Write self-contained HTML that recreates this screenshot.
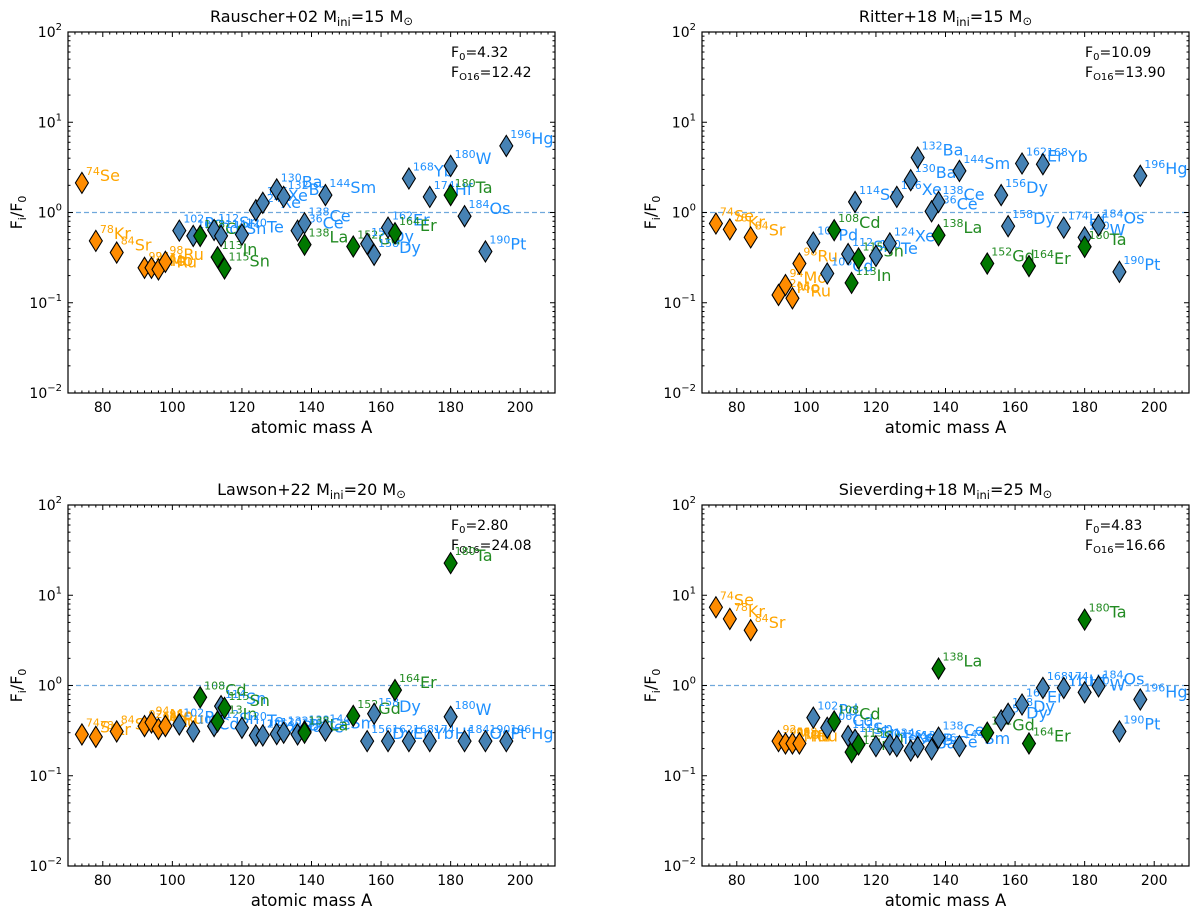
<!DOCTYPE html>
<html><head><meta charset="utf-8"><style>
body{margin:0;background:#fff;}
svg{display:block;font-family:"DejaVu Sans","Liberation Sans",sans-serif;}
</style></head><body>
<svg id="chart" width="1200" height="907" viewBox="0 0 1200 907"></svg>
<script>
const isotopes = ["74Se","78Kr","84Sr","92Mo","94Mo","96Ru","98Ru","102Pd","106Cd","108Cd","112Sn","113In","114Sn","115Sn","120Te","124Xe","126Xe","130Ba","132Ba","136Ce","138Ce","138La","144Sm","152Gd","156Dy","158Dy","162Er","164Er","168Yb","174Hf","180W","180Ta","184Os","190Pt","196Hg"];
const groups = ["o","o","o","o","o","o","o","b","b","g","b","g","b","g","b","b","b","b","b","b","b","g","b","g","b","b","b","g","b","b","b","g","b","b","b"];
const rauscherValues = [2.13,0.485,0.36,0.244,0.244,0.234,0.284,0.63,0.55,0.55,0.64,0.32,0.55,0.24,0.57,1.06,1.28,1.8,1.49,0.63,0.76,0.44,1.56,0.42,0.45,0.34,0.68,0.59,2.38,1.49,3.28,1.56,0.91,0.37,5.47];
const ritterValues = [0.755,0.65,0.53,0.122,0.157,0.112,0.272,0.465,0.211,0.637,0.346,0.166,1.31,0.31,0.33,0.454,1.49,2.28,4.06,1.03,1.31,0.56,2.89,0.272,1.56,0.706,3.49,0.255,3.43,0.68,0.53,0.417,0.72,0.22,2.55];
const lawsonValues = [0.287,0.27,0.31,0.355,0.39,0.33,0.355,0.37,0.31,0.74,0.355,0.40,0.59,0.565,0.34,0.28,0.28,0.29,0.30,0.287,0.31,0.30,0.317,0.46,0.242,0.486,0.242,0.89,0.242,0.242,0.45,22.7,0.242,0.242,0.242];
const sieverdingValues = [7.36,5.47,4.1,0.242,0.228,0.228,0.228,0.44,0.34,0.40,0.275,0.183,0.25,0.222,0.213,0.222,0.213,0.19,0.208,0.196,0.264,1.54,0.213,0.30,0.41,0.486,0.616,0.228,0.94,0.94,0.84,5.37,0.98,0.31,0.70];
const panelTitles = [["Rauscher+02","15"],["Ritter+18","15"],["Lawson+22","20"],["Sieverding+18","25"]];
const f0Labels = ["4.32","10.09","2.80","4.83"];
const fo16Labels = ["12.42","13.90","24.08","16.66"];
const xTicks = [80,100,120,140,160,180,200];
const yTickExps = [-2,-1,0,1,2];

const NS="http://www.w3.org/2000/svg";
const svg=document.getElementById('chart');
function mk(tag,attrs,parent){const e=document.createElementNS(NS,tag);for(const k in attrs)e.setAttribute(k,attrs[k]);(parent||svg).appendChild(e);return e;}
const markerFill={o:"#ff8c00",b:"#4682b4",g:"#007800"};
const labelFill={o:"#ffa500",b:"#1e90ff",g:"#228b22"};
const boxes=[[68,555,32,393],[702,1189,32,393],[68,555,505,866],[702,1189,505,866]];
const allValues=[rauscherValues,ritterValues,lawsonValues,sieverdingValues];

boxes.forEach((b,pi)=>{
  const [L,R,T,B]=b;
  const g=mk('g',{});
  
  
  const xs=a=>L+(a-70)/(140)*(R-L);
  const ys=v=>B-(Math.log10(v)+2)/4*(B-T);
  const t=mk('text',{x:(L+R)/2,y:T-10,'text-anchor':'middle','font-size':16,fill:'#000'},g);
  
  
  t.innerHTML=panelTitles[pi][0]+' M<tspan font-size="11.5" dy="4">ini</tspan><tspan dy="-4">='+panelTitles[pi][1]+' M</tspan><tspan font-size="11.5" dy="3">⊙</tspan>';
  const dl=mk('line',{x1:L,x2:R,y1:ys(1),y2:ys(1),stroke:'#6fa8dc','stroke-width':1.2,'stroke-dasharray':'5,3'},g);
  
  
  for(let a=70;a<=210;a+=2){
    const major=xTicks.includes(a); const len=major?5:2.5;
    mk('line',{x1:xs(a),x2:xs(a),y1:B,y2:B-len,stroke:'#000','stroke-width':1},g);
    mk('line',{x1:xs(a),x2:xs(a),y1:T,y2:T+len,stroke:'#000','stroke-width':1},g);
  }
  xTicks.forEach(a=>{
    const tl=mk('text',{x:xs(a),y:B+19,'text-anchor':'middle','font-size':14},g);
    
    
    tl.textContent=a;
  });
  for(let e=-2;e<2;e++){for(let m=2;m<10;m++){const y=ys(m*Math.pow(10,e));
    mk('line',{x1:L,x2:L+2.5,y1:y,y2:y,stroke:'#000'},g);mk('line',{x1:R,x2:R-2.5,y1:y,y2:y,stroke:'#000'},g);}}
  yTickExps.forEach(e=>{
    const y=ys(Math.pow(10,e));
    mk('line',{x1:L,x2:L+5,y1:y,y2:y,stroke:'#000'},g);mk('line',{x1:R,x2:R-5,y1:y,y2:y,stroke:'#000'},g);
    const tl=mk('text',{x:L-6,y:y+5,'text-anchor':'end','font-size':14},g);
    
    
    tl.innerHTML='10<tspan font-size="10" dy="-7">'+(e<0?'−'+(-e):e)+'</tspan>';
  });
  const fr=mk('rect',{x:L,y:T,width:R-L,height:B-T,fill:'none',stroke:'#000','stroke-width':1.2},g);
  
  
  const xl=mk('text',{x:(L+R)/2,y:B+40,'text-anchor':'middle','font-size':16.5},g);
  
  
  xl.textContent='atomic mass A';
  const yl=mk('text',{x:0,y:0,'text-anchor':'middle','font-size':16,transform:'translate('+(L-46)+','+((T+B)/2)+') rotate(-90)'},g);
  
  
  yl.innerHTML='F<tspan font-size="11" dy="4">i</tspan><tspan dy="-4">/F</tspan><tspan font-size="11" dy="4">0</tspan>';
  const a1=mk('text',{x:L+383,y:T+25,'font-size':14},g);
  
  
  a1.innerHTML='F<tspan font-size="10" dy="3">0</tspan><tspan dy="-3">='+f0Labels[pi]+'</tspan>';
  const a2=mk('text',{x:L+383,y:T+45,'font-size':14},g);
  
  
  a2.innerHTML='F<tspan font-size="10" dy="3">O16</tspan><tspan dy="-3">='+fo16Labels[pi]+'</tspan>';
  const vals=allValues[pi];
  isotopes.forEach((iso,i)=>{
    const mass=parseInt(iso); const el=iso.replace(/^\d+/,'');
    const cx=xs(mass), cy=ys(vals[i]);
    const p=mk('path',{d:'M'+cx+' '+(cy-10.5)+'L'+(cx+6.5)+' '+cy+'L'+cx+' '+(cy+10.5)+'L'+(cx-6.5)+' '+cy+'Z',fill:markerFill[groups[i]],stroke:'#000','stroke-width':1.1},g);
    
    
    const lt=mk('text',{x:cx+4,y:cy-2,'font-size':16,fill:labelFill[groups[i]]},g);
    
    
    lt.innerHTML='<tspan font-size="11" dy="-6">'+mass+'</tspan><tspan dy="6">'+el+'</tspan>';
  });
});
</script>
</body></html>
